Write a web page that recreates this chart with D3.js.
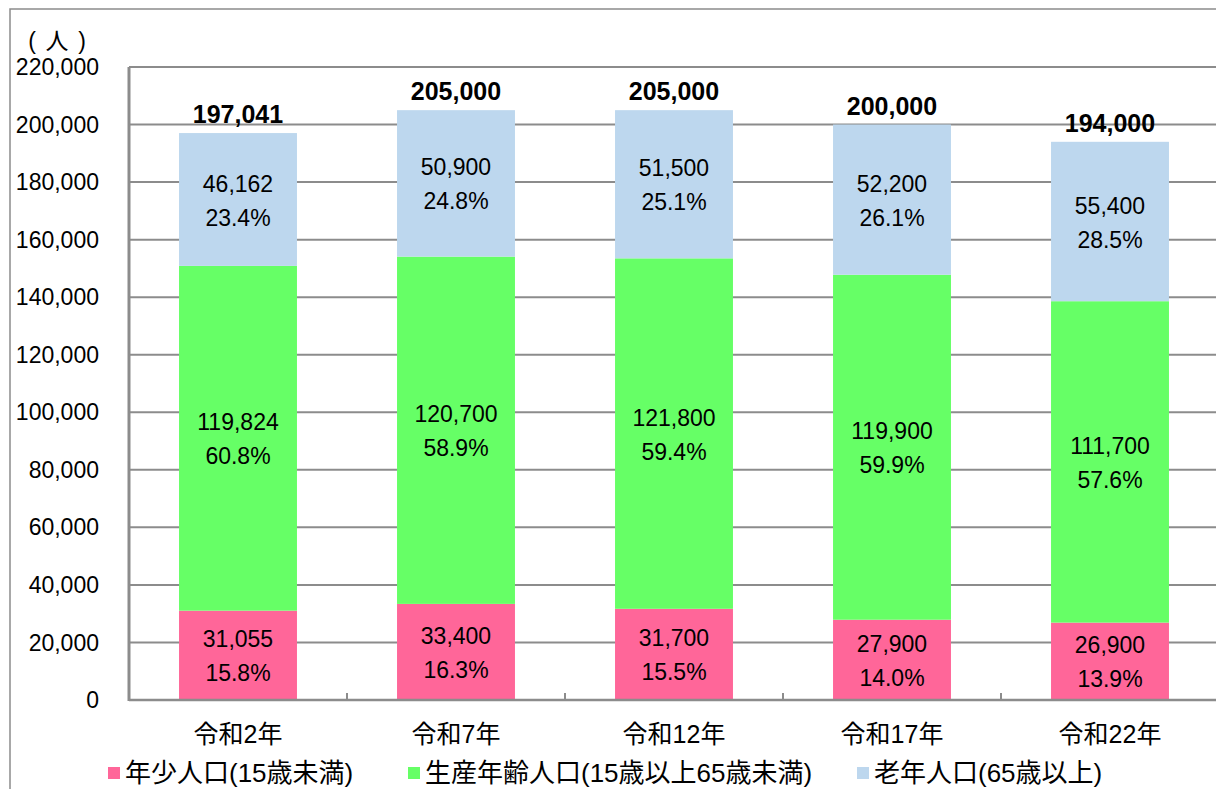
<!DOCTYPE html>
<html>
<head>
<meta charset="utf-8">
<script src="https://cdn.jsdelivr.net/npm/d3@7"></script>
<style>
  body { margin: 0; background: #fff; }
  text { font-family: "Liberation Sans", Arial, "Noto Sans CJK JP", sans-serif; fill: #000; }
</style>
</head>
<body>
<div id="chart"></div>
<script>
var categories = ["令和2年", "令和7年", "令和12年", "令和17年", "令和22年"];
var youth = [31055, 33400, 31700, 27900, 26900];
var working = [119824, 120700, 121800, 119900, 111700];
var elderly = [46162, 50900, 51500, 52200, 55400];
var youthPct = ["15.8%", "16.3%", "15.5%", "14.0%", "13.9%"];
var workingPct = ["60.8%", "58.9%", "59.4%", "59.9%", "57.6%"];
var elderlyPct = ["23.4%", "24.8%", "25.1%", "26.1%", "28.5%"];
var totals = [197041, 205000, 205000, 200000, 194000];
var yTicks = [0, 20000, 40000, 60000, 80000, 100000, 120000, 140000, 160000, 180000, 200000, 220000];
var seriesNames = ["年少人口(15歳未満)", "生産年齢人口(15歳以上65歳未満)", "老年人口(65歳以上)"];
var seriesColors = ["#ff6699", "#66ff66", "#bdd7ee"];
var unitChars = ["(", "人", ")"];

var width = 1216, height = 789;
var plot = {left: 129, right: 1219, top: 67, bottom: 700};
var fmt = d3.format(",");

var svg = d3.select("#chart").append("svg")
  .attr("width", width)
  .attr("height", height);

// outer frame
svg.append("rect")
  .attr("x", 10).attr("y", 9)
  .attr("width", 1300).attr("height", 900)
  .attr("fill", "none")
  .attr("stroke", "#8c8c8c")
  .attr("stroke-width", 1.5);

var x = d3.scaleBand()
  .domain(categories)
  .range([plot.left, plot.right])
  .paddingInner(0.459)
  .paddingOuter(0.2295);

var y = d3.scaleLinear()
  .domain([0, 220000])
  .range([plot.bottom, plot.top]);

// gridlines
svg.append("g").selectAll("line")
  .data(yTicks).enter()
  .append("line")
  .attr("x1", plot.left).attr("x2", plot.right)
  .attr("y1", function(d) { return y(d); })
  .attr("y2", function(d) { return y(d); })
  .attr("stroke", "#8c8c8c")
  .attr("stroke-width", 2);

// y tick labels
svg.append("g").selectAll("text")
  .data(yTicks).enter()
  .append("text")
  .attr("x", 99)
  .attr("y", function(d) { return y(d); })
  .attr("dy", "0.35em")
  .attr("text-anchor", "end")
  .style("font-size", "23px")
  .text(function(d) { return fmt(d); });

// unit label (人)
svg.append("g").selectAll("text")
  .data(unitChars).enter()
  .append("text")
  .attr("x", function(d, i) { return 32 + i * 25; })
  .attr("y", 41)
  .attr("dy", "0.35em")
  .attr("text-anchor", "middle")
  .style("font-size", "23px")
  .text(function(d) { return d; });

// stacked data
var rows = categories.map(function(c, i) {
  return {cat: c, parts: [
    {v0: 0, v1: youth[i], val: youth[i], pct: youthPct[i], color: seriesColors[0]},
    {v0: youth[i], v1: youth[i] + working[i], val: working[i], pct: workingPct[i], color: seriesColors[1]},
    {v0: youth[i] + working[i], v1: youth[i] + working[i] + elderly[i], val: elderly[i], pct: elderlyPct[i], color: seriesColors[2]}
  ], total: totals[i]};
});

var bars = svg.append("g").selectAll("g")
  .data(rows).enter()
  .append("g");

bars.selectAll("rect")
  .data(function(d) { return d.parts.map(function(p) { p.cat = d.cat; return p; }); })
  .enter().append("rect")
  .attr("x", function(d) { return x(d.cat); })
  .attr("width", x.bandwidth())
  .attr("y", function(d) { return y(d.v1); })
  .attr("height", function(d) { return y(d.v0) - y(d.v1); })
  .attr("fill", function(d) { return d.color; });

// segment labels
bars.selectAll("text.val")
  .data(function(d) { return d.parts; })
  .enter().append("text")
  .attr("class", "val")
  .attr("x", function(d) { return x(d.cat) + x.bandwidth() / 2; })
  .attr("y", function(d) { return (y(d.v0) + y(d.v1)) / 2 - 16; })
  .attr("dy", "0.35em")
  .attr("text-anchor", "middle")
  .style("font-size", "23px")
  .text(function(d) { return fmt(d.val); });

bars.selectAll("text.pct")
  .data(function(d) { return d.parts; })
  .enter().append("text")
  .attr("class", "pct")
  .attr("x", function(d) { return x(d.cat) + x.bandwidth() / 2; })
  .attr("y", function(d) { return (y(d.v0) + y(d.v1)) / 2 + 18; })
  .attr("dy", "0.35em")
  .attr("text-anchor", "middle")
  .style("font-size", "23px")
  .text(function(d) { return d.pct; });

// totals
bars.append("text")
  .attr("x", function(d) { return x(d.cat) + x.bandwidth() / 2; })
  .attr("y", function(d) { return y(d.total) - 10; })
  .attr("text-anchor", "middle")
  .style("font-size", "25px")
  .style("font-weight", "bold")
  .text(function(d) { return fmt(d.total); });

// axes lines
svg.append("line")
  .attr("x1", plot.left).attr("x2", plot.left)
  .attr("y1", plot.top).attr("y2", plot.bottom + 1)
  .attr("stroke", "#8c8c8c").attr("stroke-width", 3);
svg.append("line")
  .attr("x1", plot.left).attr("x2", plot.right)
  .attr("y1", plot.bottom).attr("y2", plot.bottom)
  .attr("stroke", "#8c8c8c").attr("stroke-width", 2.5);

// category boundary ticks
var step = x.step();
svg.append("g").selectAll("line")
  .data(categories.slice(1)).enter()
  .append("line")
  .attr("x1", function(d) { return x(d) - (step - x.bandwidth()) / 2; })
  .attr("x2", function(d) { return x(d) - (step - x.bandwidth()) / 2; })
  .attr("y1", plot.bottom - 7).attr("y2", plot.bottom)
  .attr("stroke", "#8c8c8c").attr("stroke-width", 2);

// category labels
svg.append("g").selectAll("text")
  .data(categories).enter()
  .append("text")
  .attr("x", function(d) { return x(d) + x.bandwidth() / 2; })
  .attr("y", 734)
  .attr("dy", "0.35em")
  .attr("text-anchor", "middle")
  .style("font-size", "25px")
  .text(function(d) { return d; });

// legend
var legendX = [108, 408, 857];
var legend = svg.append("g").selectAll("g")
  .data(seriesNames).enter()
  .append("g")
  .attr("transform", function(d, i) { return "translate(" + legendX[i] + ",773)"; });
legend.append("rect")
  .attr("x", 0).attr("y", -6)
  .attr("width", 12).attr("height", 12)
  .attr("fill", function(d, i) { return seriesColors[i]; });
legend.append("text")
  .attr("x", 17).attr("y", 0)
  .attr("dy", "0.35em")
  .style("font-size", "26px")
  .text(function(d) { return d; });
</script>
</body>
</html>
